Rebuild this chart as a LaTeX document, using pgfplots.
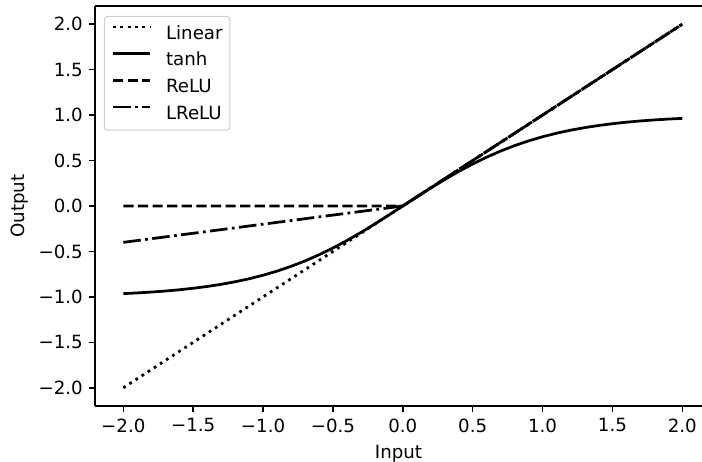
\documentclass[border=0pt]{standalone}
\usepackage{pgfplots}
\pgfplotsset{compat=1.18}
\usepackage{fontspec}
\setmainfont{DejaVu Sans}
\newcommand{\bigf}{\fontsize{18.2pt}{21pt}\selectfont}
\begin{document}
\begin{tikzpicture}[font=\bigf]
\begin{axis}[
  scale only axis,
  width=607pt, height=400pt,
  xmin=-2.2026, xmax=2.141,
  ymin=-2.2, ymax=2.2,
  axis x line*=box,
  axis y line*=left,
  axis line style={line width=1.47pt, black},
  xtick={-2,-1.5,-1,-0.5,0,0.5,1,1.5,2},
  ytick={-2,-1.5,-1,-0.5,0,0.5,1,1.5,2},
  xticklabels={−2.0,−1.5,−1.0,−0.5,0.0,0.5,1.0,1.5,2.0},
  yticklabels={−2.0,−1.5,−1.0,−0.5,0.0,0.5,1.0,1.5,2.0},
  xtick pos=bottom, ytick pos=left,
  tick align=outside,
  major tick length=6.4pt,
  tick style={line width=1.47pt, black},
  tick label style={font=\bigf},
  label style={font=\bigf},
  xticklabel style={anchor=north, inner sep=0pt, yshift=-6pt},
  yticklabel style={anchor=east, inner sep=0pt, xshift=-5.6pt},
  xlabel={Input}, ylabel={Output},
  xlabel style={at={(axis description cs:0.5,-0.13075)}, anchor=base},
  ylabel style={at={(axis description cs:-0.1244,0.5)}, anchor=center},
  legend style={at={(0,1)}, anchor=north west, xshift=9pt, yshift=-10pt, font=\bigf,
    draw=black!20, line width=1pt, rounded corners=3pt, fill=white, fill opacity=0.8, text opacity=1,
    inner xsep=7.3pt, inner ysep=9pt,
    nodes={inner sep=0pt, text height=13.6pt, text depth=2pt, anchor=west},
    row sep=11.1pt, column sep=14.7pt},
  legend image code/.code={\draw[#1] (0pt,6.3pt) -- (36.8pt,6.3pt);},
  legend cell align=left,
  every axis plot/.append style={line width=2.75pt, black, line cap=butt},
]
\coordinate (sw) at (rel axis cs:0,0);
\coordinate (ne) at (rel axis cs:1,1);
\addplot[dash pattern=on 2.75pt off 4.54pt] coordinates {(-2,-2) (2,2)};
\addlegendentry{Linear}
\addplot[solid] coordinates {
(-2.0,-0.9640) (-1.9,-0.9562) (-1.8,-0.9468) (-1.7,-0.9354) (-1.6,-0.9217)
(-1.5,-0.9051) (-1.4,-0.8854) (-1.3,-0.8617) (-1.2,-0.8337) (-1.1,-0.8005)
(-1.0,-0.7616) (-0.9,-0.7163) (-0.8,-0.6640) (-0.7,-0.6044) (-0.6,-0.5370)
(-0.5,-0.4621) (-0.4,-0.3799) (-0.3,-0.2913) (-0.2,-0.1974) (-0.1,-0.0997)
(0.0,0.0)
(0.1,0.0997) (0.2,0.1974) (0.3,0.2913) (0.4,0.3799) (0.5,0.4621)
(0.6,0.5370) (0.7,0.6044) (0.8,0.6640) (0.9,0.7163) (1.0,0.7616)
(1.1,0.8005) (1.2,0.8337) (1.3,0.8617) (1.4,0.8854) (1.5,0.9051)
(1.6,0.9217) (1.7,0.9354) (1.8,0.9468) (1.9,0.9562) (2.0,0.9640)};
\addlegendentry{tanh}
\addplot[dash pattern=on 10.2pt off 4.4pt] coordinates {(-2,0) (0,0) (2,2)};
\addlegendentry{ReLU}
\addplot[dash pattern=on 17.6pt off 4.4pt on 2.75pt off 4.4pt] coordinates {(-2,-0.4) (0,0) (2,2)};
\addlegendentry{LReLU}
\end{axis}
\pgfresetboundingbox
\path ([shift={(-95pt,-56pt)}]sw) rectangle ([shift={(0pt,6pt)}]ne);
\end{tikzpicture}
\end{document}
